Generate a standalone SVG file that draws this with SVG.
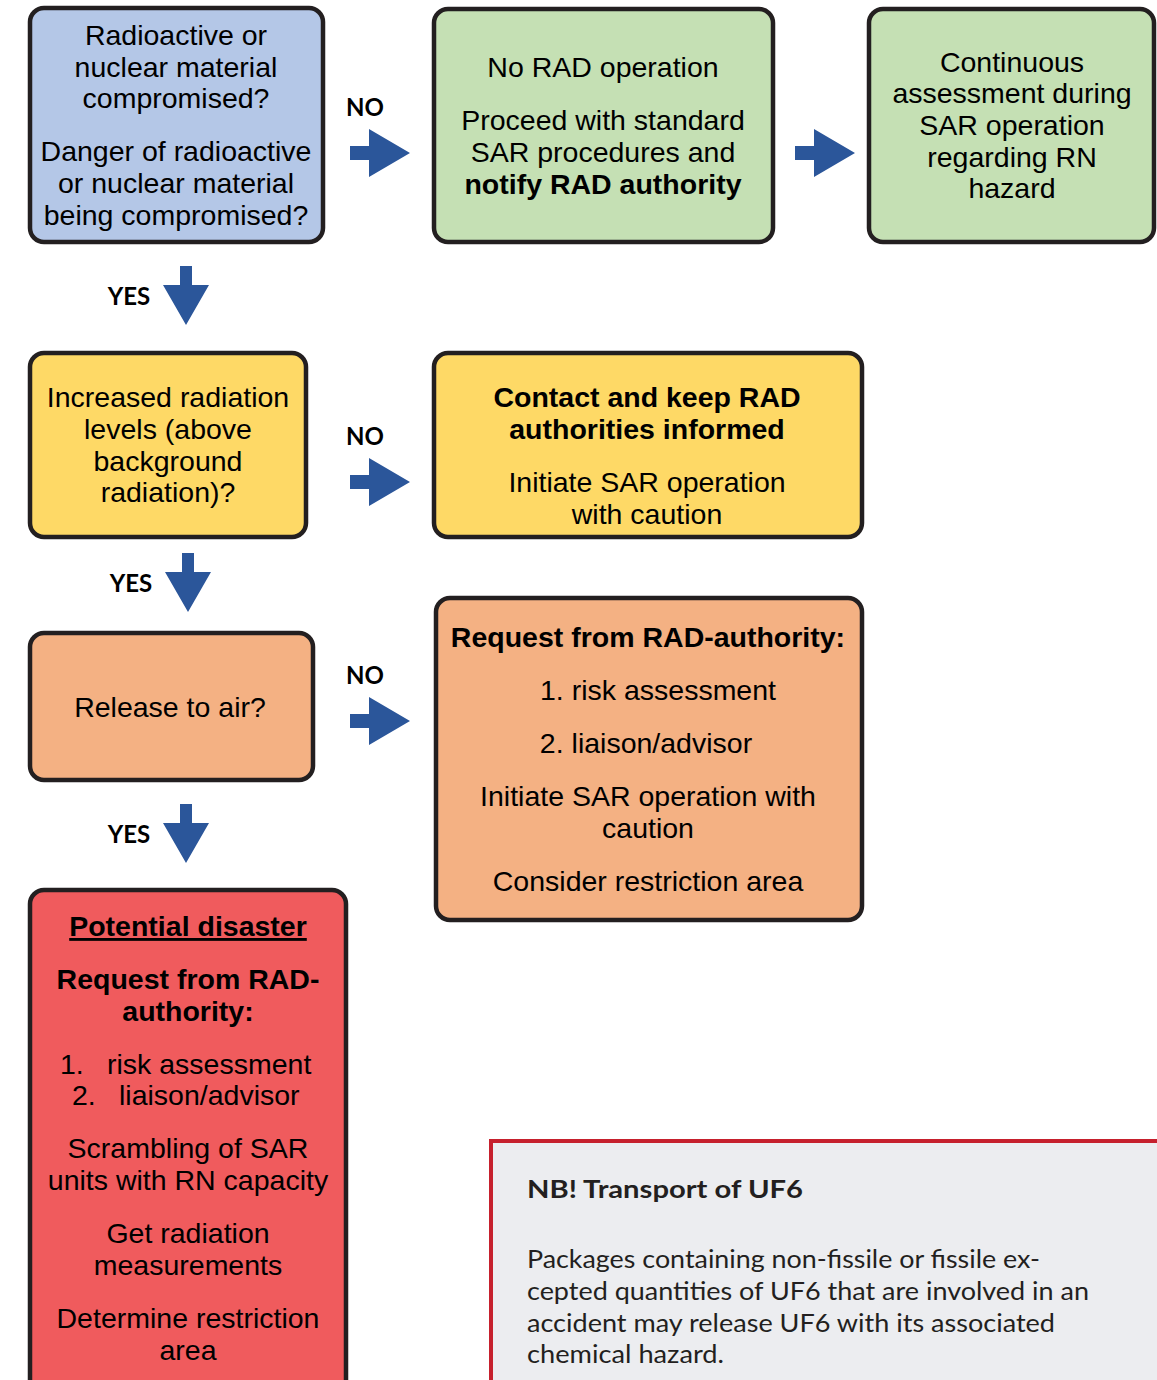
<svg xmlns="http://www.w3.org/2000/svg" width="1157" height="1380" viewBox="0 0 1157 1380">
<style>
.box{stroke:#231f20;stroke-width:4.5}
.t{font-family:"Liberation Sans",Arial,sans-serif;font-size:28.5px;fill:#000;text-anchor:middle}
.t.s{text-anchor:start}
.b{font-weight:bold}
.lbl{font-family:Lato,"Open Sans",sans-serif;font-weight:bold;font-size:24px;fill:#000;text-anchor:middle}
.nb{font-family:Lato,"Open Sans",sans-serif;font-size:25px;fill:#231f20}
.arr{fill:#2b569a}
</style>
<defs>
<path id="ar" d="M0,-7 H19 V-24 L60,0 L19,24 V7 H0 Z"/>
<path id="ad" d="M-6,0 H6 V19 H23 L0,59 L-23,19 H-6 Z"/>
</defs>
<rect width="1157" height="1380" fill="#fff"/>

<g id="q1">
<rect class="box" x="30" y="8" width="293" height="234" rx="14" fill="#b4c7e7"/>
<text class="t" x="176" y="45">Radioactive or</text>
<text class="t" x="176" y="77">nuclear material</text>
<text class="t" x="176" y="108">compromised?</text>
<text class="t" x="176" y="161">Danger of radioactive</text>
<text class="t" x="176" y="193">or nuclear material</text>
<text class="t" x="176" y="225">being compromised?</text>
</g>

<g id="noRad">
<rect class="box" x="434" y="9" width="339" height="233" rx="14" fill="#c5e0b4"/>
<text class="t" x="603" y="77">No RAD operation</text>
<text class="t" x="603" y="130">Proceed with standard</text>
<text class="t" x="603" y="162">SAR procedures and</text>
<text class="t b" x="603" y="194">notify RAD authority</text>
</g>

<g id="continuous">
<rect class="box" x="869" y="9" width="285" height="233" rx="14" fill="#c5e0b4"/>
<text class="t" x="1012" y="72">Continuous</text>
<text class="t" x="1012" y="103">assessment during</text>
<text class="t" x="1012" y="135">SAR operation</text>
<text class="t" x="1012" y="167">regarding RN</text>
<text class="t" x="1012" y="198">hazard</text>
</g>

<g id="q2">
<rect class="box" x="30" y="353" width="276" height="184" rx="14" fill="#fed966"/>
<text class="t" x="168" y="407">Increased radiation</text>
<text class="t" x="168" y="439">levels (above</text>
<text class="t" x="168" y="471">background</text>
<text class="t" x="168" y="502">radiation)?</text>
</g>

<g id="contact">
<rect class="box" x="434" y="353" width="428" height="184" rx="14" fill="#fed966"/>
<text class="t b" x="647" y="407">Contact and keep RAD</text>
<text class="t b" x="647" y="439">authorities informed</text>
<text class="t" x="647" y="492">Initiate SAR operation</text>
<text class="t" x="647" y="524">with caution</text>
</g>

<g id="q3">
<rect class="box" x="30" y="633" width="283" height="147" rx="14" fill="#f4b183"/>
<text class="t" x="170" y="717">Release to air?</text>
</g>

<g id="request">
<rect class="box" x="436" y="598" width="426" height="322" rx="14" fill="#f4b183"/>
<text class="t b" x="648" y="647">Request from RAD-authority:</text>
<text class="t" x="658" y="700">1. risk assessment</text>
<text class="t" x="646" y="753">2. liaison/advisor</text>
<text class="t" x="648" y="806">Initiate SAR operation with</text>
<text class="t" x="648" y="838">caution</text>
<text class="t" x="648" y="891">Consider restriction area</text>
</g>

<g id="disaster">
<rect class="box" x="30" y="890" width="316" height="510" rx="14" fill="#f05b5d"/>
<text class="t b" x="188" y="936" text-decoration="underline">Potential disaster</text>
<text class="t b" x="188" y="989">Request from RAD-</text>
<text class="t b" x="188" y="1021">authority:</text>
<text class="t s" x="60" y="1074">1.</text>
<text class="t s" x="107" y="1074">risk assessment</text>
<text class="t s" x="72" y="1105">2.</text>
<text class="t s" x="119" y="1105">liaison/advisor</text>
<text class="t" x="188" y="1158">Scrambling of SAR</text>
<text class="t" x="188" y="1190">units with RN capacity</text>
<text class="t" x="188" y="1243">Get radiation</text>
<text class="t" x="188" y="1275">measurements</text>
<text class="t" x="188" y="1328">Determine restriction</text>
<text class="t" x="188" y="1360">area</text>
</g>

<g id="nbNote">
<rect x="491" y="1141" width="720" height="300" fill="#ecedf0" stroke="#c6202d" stroke-width="4"/>
<text class="nb" x="527" y="1198" font-weight="bold" textLength="276" lengthAdjust="spacingAndGlyphs">NB! Transport of UF6</text>
<text class="nb" x="527" y="1268" textLength="513" lengthAdjust="spacingAndGlyphs">Packages containing non-fissile or fissile ex-</text>
<text class="nb" x="527" y="1300" textLength="562" lengthAdjust="spacingAndGlyphs">cepted quantities of UF6 that are involved in an</text>
<text class="nb" x="527" y="1332" textLength="528" lengthAdjust="spacingAndGlyphs">accident may release UF6 with its associated</text>
<text class="nb" x="527" y="1363" textLength="197" lengthAdjust="spacingAndGlyphs">chemical hazard.</text>
</g>

<g id="connectors">
<use href="#ar" class="arr" x="350" y="153"/>
<use href="#ar" class="arr" x="795" y="153"/>
<use href="#ar" class="arr" x="350" y="482"/>
<use href="#ar" class="arr" x="350" y="721"/>
<use href="#ad" class="arr" x="186" y="266"/>
<use href="#ad" class="arr" x="188" y="553"/>
<use href="#ad" class="arr" x="186" y="804"/>
<text class="lbl" x="365" y="116">NO</text>
<text class="lbl" x="365" y="445">NO</text>
<text class="lbl" x="365" y="684">NO</text>
<text class="lbl" x="129" y="305">YES</text>
<text class="lbl" x="131" y="592">YES</text>
<text class="lbl" x="129" y="843">YES</text>
</g>
</svg>
